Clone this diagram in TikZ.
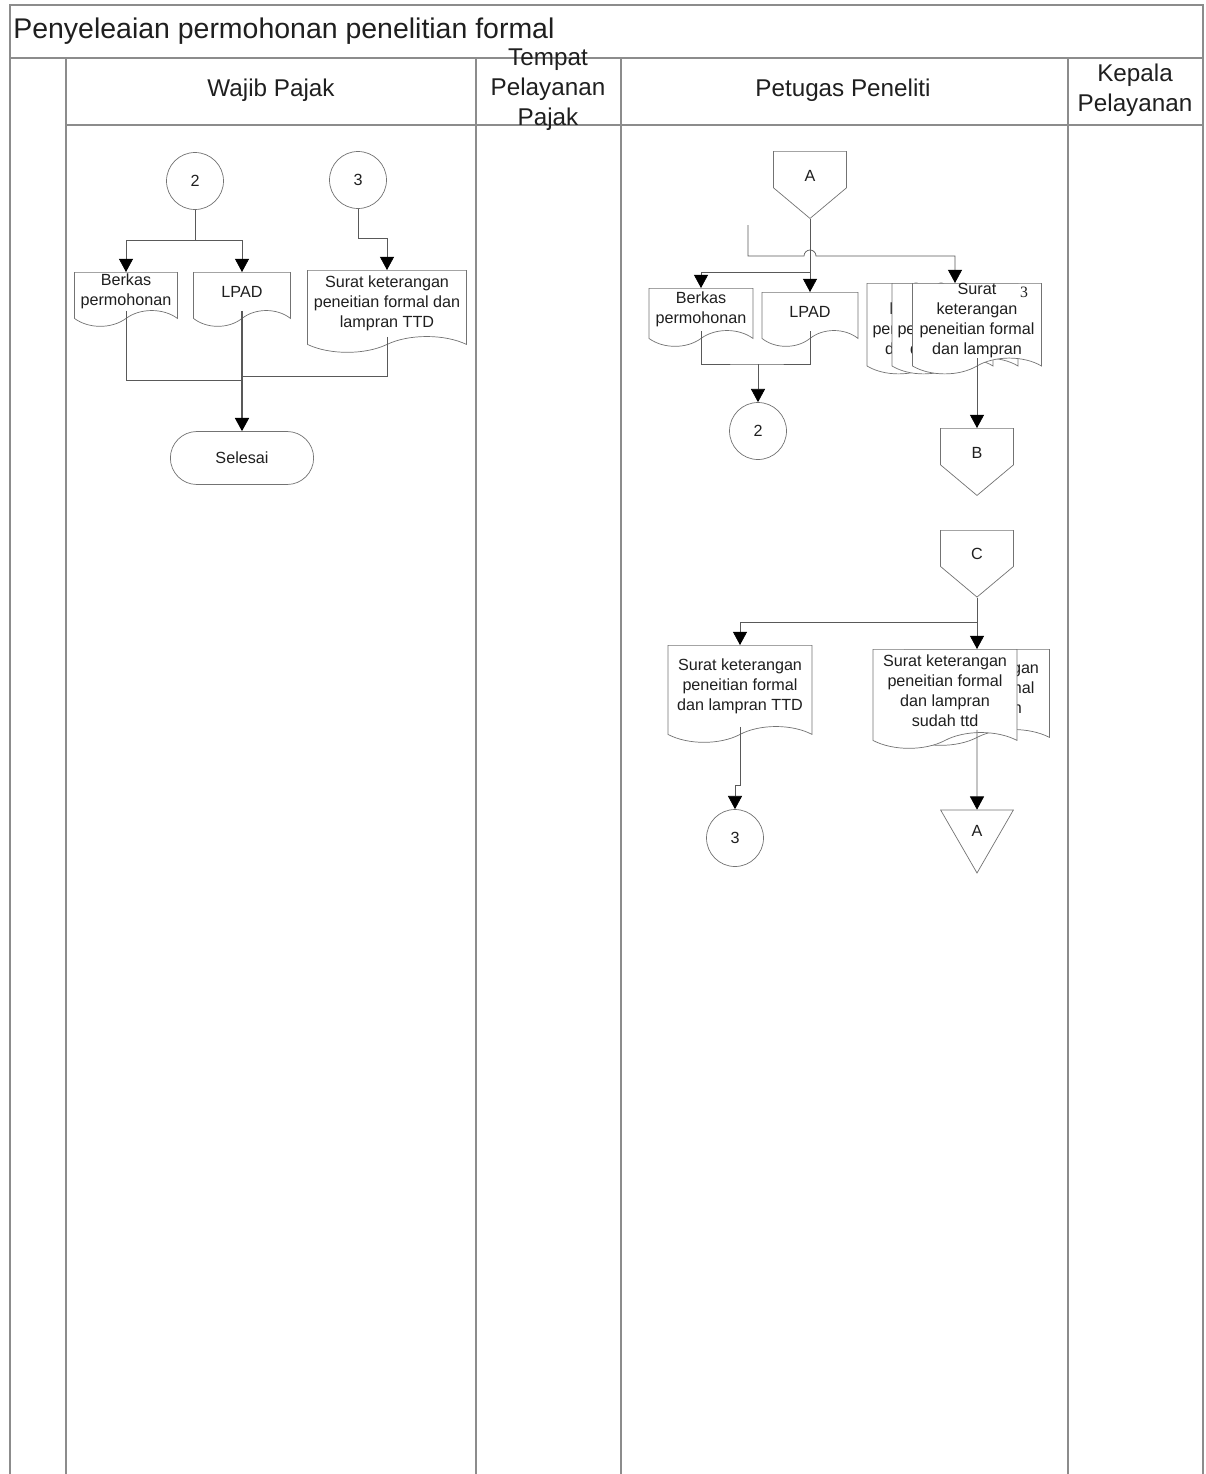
\documentclass[tikz,border=0pt]{standalone}
\usepackage{fontspec}
\setmainfont{Liberation Sans}
\newfontfamily\pagenum{Liberation Serif}
\usetikzlibrary{arrows.meta,shapes.symbols,shapes.geometric,shapes.misc}

\definecolor{framegray}{gray}{0.55}
\definecolor{shapegray}{gray}{0.45}
\definecolor{wiregray}{gray}{0.35}
\definecolor{textgray}{gray}{0.12}

\begin{document}
\begin{tikzpicture}[
    x=0.02cm, y=-0.02cm,
    >={Triangle[width=8pt,length=7.5pt,black]},
    every node/.style={font=\fontsize{9.2}{11.4}\selectfont, text=textgray},
    lane/.style={draw=framegray, line width=1pt},
    head/.style={font=\fontsize{13.8}{17}\selectfont, align=center},
    doc/.style={
        tape,
        tape bend top=none,
        tape bend bottom=in and out,
        tape bend height=9pt,
        draw=shapegray,
        fill=white,
        align=center,
        inner sep=0pt,
        anchor=north
    },
    conn/.style={
        circle,
        draw=shapegray,
        fill=white,
        minimum size=1.14cm,
        inner sep=0pt
    },
    offpage/.style={
        signal,
        signal to=south,
        signal from=nowhere,
        signal pointer angle=100,
        draw=shapegray,
        fill=white,
        minimum width=1.46cm,
        minimum height=0.82cm,
        text height=13pt,
        text depth=0pt,
        inner sep=0pt,
        anchor=north
    },
    endpage/.style={
        regular polygon,
        regular polygon sides=3,
        shape border rotate=180,
        draw=shapegray,
        fill=white,
        minimum size=1.68cm,
        inner sep=0pt
    },
    term/.style={
        rounded rectangle,
        draw=shapegray,
        fill=white,
        minimum width=3.1cm,
        minimum height=1.06cm
    },
    wire/.style={draw=wiregray},
    arr/.style={wire, ->}
]
    \useasboundingbox (0,0) rectangle (1206,1474);

    % swimlane frame
    \draw[lane] (10,1474) -- (10,5) -- (1203,5) -- (1203,1474);
    \draw[lane] (10,58) -- (1203,58);
    \draw[lane] (66,125) -- (1203,125);
    \draw[lane] (66,58) -- (66,1474);
    \draw[lane] (476,58) -- (476,1474);
    \draw[lane] (621,58) -- (621,1474);
    \draw[lane] (1068,58) -- (1068,1474);

    % title and lane headers
    \node[font=\fontsize{16.2}{19}\selectfont, anchor=west, inner sep=0pt] (title) at (13,31) {Penyeleaian permohonan penelitian formal};
    \node[head] (hWajib) at (271,90) {Wajib Pajak};
    \node[head] (hTempat) at (548,90) {Tempat\\Pelayanan\\Pajak};
    \node[head] (hPetugas) at (843,90) {Petugas Peneliti};
    \node[head] (hKepala) at (1135,90) {Kepala\\Pelayanan};

    % Wajib Pajak
    \node[conn] (wp2) at (195,181) {2};
    \node[conn] (wp3) at (358,180) {3};
    \node[doc, minimum width=2.06cm, minimum height=1.08cm] (wpBerkas) at (126,272) {Berkas\\permohonan};
    \node[doc, minimum width=1.94cm, minimum height=1.08cm] (wpLpad) at (242,272) {LPAD};
    \node[doc, minimum width=3.18cm, minimum height=1.64cm] (wpSurat) at (387,270) {Surat keterangan\\peneitian formal dan\\lampran TTD};
    \node[term] (selesai) at (242,458) {Selesai};

    % Petugas Peneliti
    \node[offpage] (ppA) at (810,151) {A};
    \node[doc, minimum width=2.08cm, minimum height=1.16cm] (ppBerkas) at (701,288) {Berkas\\permohonan};
    \node[doc, minimum width=1.92cm, minimum height=1.08cm] (ppLpad) at (810,292) {LPAD};
    \node[conn] (pp2) at (758,431) {2};
    \node[doc, minimum width=2.52cm, minimum height=1.78cm] (ppStack1) at (930,283) {Surat\\keterangan\\peneitian formal\\dan lampran};
    \node[doc, minimum width=2.52cm, minimum height=1.78cm] (ppStack2) at (955,283) {Surat\\keterangan\\peneitian formal\\dan lampran};
    \node[doc, minimum width=2.58cm, minimum height=1.78cm] (ppStack3) at (977,283) {Surat\\keterangan\\peneitian formal\\dan lampran};
    \node[font=\pagenum\fontsize{9}{10}\selectfont] (ppPage) at (1024,292) {3};
    \node[offpage] (ppB) at (977,428) {B};

    \node[offpage] (ppC) at (977,530) {C};
    \node[doc, minimum width=2.88cm, minimum height=1.94cm] (ppSuratTtd) at (740,645) {Surat keterangan\\peneitian formal\\dan lampran TTD};
    \node[doc, minimum width=2.9cm, minimum height=1.92cm] (ppTtdBack) at (977,649) {Surat keterangan\\peneitian formal\\dan lampran};
    \node[doc, minimum width=2.88cm, minimum height=1.98cm] (ppTtd) at (945,649) {Surat keterangan\\peneitian formal\\dan lampran\\sudah ttd};
    \node[conn] (pp3) at (735,838) {3};
    \node[endpage] (ppEndA) at (977,831) {A};

    % Wajib Pajak flow
    \coordinate (wpSplit) at (195,240);
    \coordinate (wp3Bend) at (358,238);
    \coordinate (wpMergeA) at (242,380);
    \coordinate (wpMergeB) at (242,376);
    \draw[wire] (wp2.south) -- (wpSplit);
    \draw[arr] (wpSplit) -| (wpBerkas.north);
    \draw[arr] (wpSplit) -| (wpLpad.north);
    \draw[arr] (wp3.south) -- (wp3Bend) -| (wpSurat.north);
    \draw[wire] (wpBerkas.south) |- (wpMergeA);
    \draw[wire] (wpSurat.south) |- (wpMergeB);
    \draw[arr, thick] (wpLpad.south) -- (selesai.north);

    % Petugas Peneliti flow
    \coordinate (ppSplit) at (810,272);
    \coordinate (ppLoose) at (748,225);
    \coordinate (ppHop) at (804,256);
    \coordinate (ppMerge) at (758,364);
    \draw[wire] (ppA.south) -- (ppSplit);
    \draw[arr] (ppSplit) -- (ppLpad.north);
    \draw[arr] (ppSplit) -| (ppBerkas.north);
    \draw[arr] (ppLoose) |- (ppHop) arc[start angle=180, end angle=360, radius=6] -| (ppStack2.north);
    \draw[wire] (ppBerkas.south) |- (ppMerge) -| (ppLpad.south);
    \draw[arr] (ppMerge) -- (pp2.north);
    \draw[arr] (ppStack3.south) -- (ppB.north);

    \coordinate (ppCSplit) at (977,622);
    \coordinate (ppJog) at (740,785);
    \draw[wire] (ppC.south) -- (ppCSplit);
    \draw[arr] (ppCSplit) -| (ppSuratTtd.north);
    \draw[arr] (ppCSplit) -- (ppTtdBack.north);
    \draw[arr] (ppSuratTtd.south) -- (ppJog) -| (pp3.north);
    \draw[arr] (ppTtdBack.south) -- (ppEndA.north);

\end{tikzpicture}
\end{document}
